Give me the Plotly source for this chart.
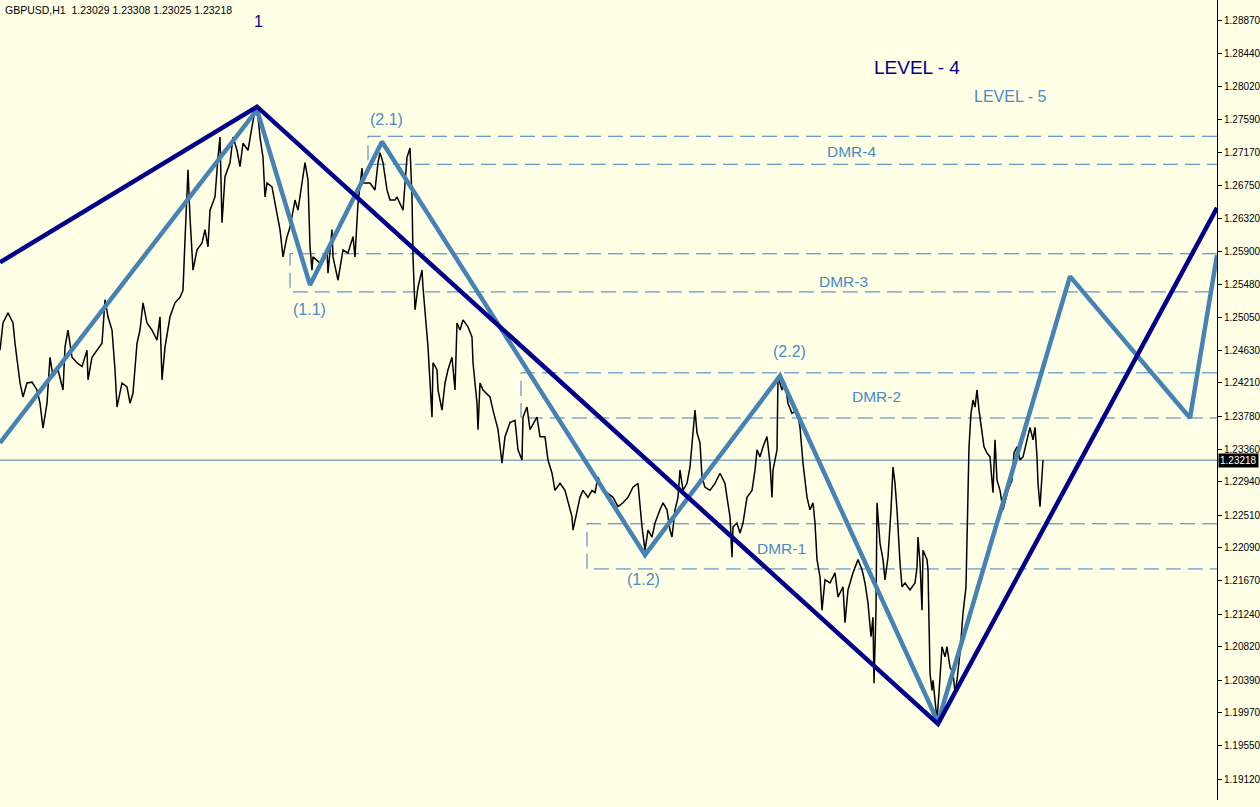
import plotly.graph_objects as go

# ---------------- data ----------------
title_text = "GBPUSD,H1\u00a0\u00a01.23029 1.23308 1.23025 1.23218"
last_price = 1.23218

price_x = [0,3,8,13,15,18,20,23,27,32,37,40,43,47,50,53,58,63,65,68,72,77,82,87,88,92,97,102,105,108,
           112,115,117,122,127,130,133,137,140,143,147,152,157,160,162,165,170,175,180,183,185,188,190,193,197,
           202,205,208,210,215,218,220,222,225,230,233,237,240,243,248,252,255,258,260,263,265,267,272,275,280,
           283,287,290,295,298,305,308,310,312,313,320,327,328,332,333,338,343,348,353,355,358,362,363,370,375,
           378,380,383,387,390,395,397,403,405,407,410,412,413,415,418,422,423,425,428,432,433,437,438,442,445,
           448,452,455,457,460,463,468,472,473,477,478,480,483,490,493,498,502,505,510,515,518,522,523,527,530,
           537,540,545,548,552,555,560,565,568,572,573,577,580,583,588,592,595,598,603,607,613,618,623,628,633,
           638,640,642,645,648,652,655,660,663,667,670,672,675,678,680,683,687,690,693,695,697,700,702,705,710,
           715,720,725,727,730,732,733,737,740,743,747,752,755,757,760,763,767,770,772,773,777,778,782,785,788,
           792,797,800,803,807,810,813,815,817,820,822,825,830,835,838,843,845,848,853,858,862,865,868,871,873,
           874,876,877,880,883,885,888,891,893,895,897,900,902,905,910,915,917,918,920,922,923,927,928,930,932,
           933,935,937,939,942,945,947,950,953,955,957,960,963,966,967,969,971,973,975,977,979,982,984,987,990,
           993,995,997,1000,1003,1005,1008,1012,1014,1017,1020,1023,1027,1030,1033,1035,1037,1038,1040,1042,1043]
price_y = [1.2463,1.2498,1.2511,1.2498,1.2472,1.2442,1.2421,1.2403,1.2421,1.2422,1.2412,1.2395,1.2363,1.2395,
           1.2454,1.2429,1.2438,1.2412,1.2467,1.2489,1.2454,1.2447,1.2442,1.2463,1.2425,1.2454,1.2463,1.2472,
           1.2528,1.2506,1.2489,1.2438,1.2390,1.2421,1.2416,1.2395,1.2408,1.2472,1.2489,1.2524,1.2498,1.2489,
           1.2476,1.2506,1.2425,1.2467,1.2506,1.2524,1.2531,1.2540,1.2605,1.2695,1.2634,1.2566,1.2592,1.2601,
           1.2618,1.2596,1.2643,1.2660,1.2711,1.2737,1.2627,1.2686,1.2704,1.2737,1.2720,1.2699,1.2729,1.2720,
           1.2750,1.2772,1.2763,1.2737,1.2711,1.2660,1.2678,1.2673,1.2652,1.2618,1.2583,1.2609,1.2621,1.2656,
           1.2643,1.2704,1.2682,1.2596,1.2566,1.2583,1.2575,1.2592,1.2562,1.2618,1.2583,1.2553,1.2592,1.2588,
           1.2609,1.2583,1.2652,1.2697,1.2678,1.2678,1.2669,1.2704,1.2717,1.2704,1.2669,1.2656,1.2656,1.2660,
           1.2643,1.2682,1.2711,1.2723,1.2660,1.2583,1.2515,1.2544,1.2566,1.2544,1.2511,1.2467,1.2377,1.2447,
           1.2438,1.2412,1.2386,1.2421,1.2438,1.2454,1.2412,1.2498,1.2489,1.2502,1.2493,1.2480,1.2447,1.2395,
           1.2361,1.2421,1.2412,1.2403,1.2386,1.2361,1.2318,1.2352,1.2370,1.2373,1.2335,1.2322,1.2377,1.2390,
           1.2361,1.2377,1.2352,1.2352,1.2322,1.2305,1.2283,1.2292,1.2283,1.2267,1.2249,1.2232,1.2254,1.2274,
           1.2283,1.2274,1.2283,1.2280,1.2300,1.2283,1.2280,1.2274,1.2262,1.2267,1.2274,1.2287,1.2292,1.2258,
           1.2236,1.2206,1.2232,1.2223,1.2241,1.2258,1.2267,1.2258,1.2232,1.2223,1.2258,1.2274,1.2309,1.2283,
           1.2292,1.2313,1.2352,1.2386,1.2357,1.2344,1.2300,1.2287,1.2283,1.2292,1.2305,1.2292,1.2274,1.2249,
           1.2197,1.2236,1.2241,1.2228,1.2241,1.2274,1.2283,1.2309,1.2335,1.2326,1.2339,1.2352,1.2318,1.2274,
           1.2309,1.2335,1.2429,1.2412,1.2421,1.2395,1.2382,1.2386,1.2364,1.2318,1.2274,1.2258,1.2267,1.2241,
           1.2194,1.2172,1.2129,1.2168,1.2164,1.2177,1.2146,1.2159,1.2113,1.2155,1.2177,1.2194,1.2181,1.2164,
           1.2138,1.2095,1.2120,1.2035,1.2129,1.2267,1.2215,1.2194,1.2168,1.2197,1.2258,1.2313,1.2292,1.2258,
           1.2190,1.2159,1.2164,1.2155,1.2164,1.2184,1.2223,1.2190,1.2129,1.2206,1.2194,1.2181,1.2048,1.2026,
           1.2039,1.2014,1.1988,1.2023,1.2082,1.2069,1.2082,1.2056,1.2048,1.2023,1.2039,1.2074,1.2125,1.2159,
           1.2236,1.2339,1.2382,1.2399,1.2390,1.2412,1.2386,1.2361,1.2339,1.2331,1.2326,1.2280,1.2348,1.2296,
           1.2283,1.2258,1.2267,1.2283,1.2296,1.2331,1.2339,1.2322,1.2326,1.2348,1.2364,1.2348,1.2364,1.2326,
           1.2292,1.2262,1.2296,1.2322]

# wave level 4 (navy) and wave level 5 (steel blue) vertices
level4_x = [0, 257, 938, 1217]
level4_y = [1.2576, 1.2776, 1.1983, 1.2646]
level5_x = [0, 257, 310, 382, 645, 780, 938, 1070, 1190, 1217]
level5_y = [1.2344, 1.2772, 1.2547, 1.2731, 1.2200, 1.2430, 1.1985, 1.2558, 1.2376, 1.2585]

# DMR zones
dmr_names = ["DMR-1", "DMR-2", "DMR-3", "DMR-4"]
dmr_left = [587, 521, 290, 368]
dmr_top = [1.2240, 1.2434, 1.2587, 1.2738]
dmr_bottom = [1.2182, 1.2376, 1.2538, 1.2702]
dmr_label_x = [781, 876, 843, 851]
dmr_label_y = [1.2208, 1.2404, 1.2552, 1.2718]

# wave point labels
wave_labels = ["(1.1)", "(2.1)", "(1.2)", "(2.2)"]
wave_label_x = [309, 386, 643, 789]
wave_label_y = [1.2515, 1.2760, 1.2168, 1.2461]

# price axis ticks
tick_vals = [1.28870, 1.28440, 1.28020, 1.27590, 1.27170, 1.26750, 1.26320, 1.25900, 1.25480,
             1.25050, 1.24630, 1.24210, 1.23780, 1.23360, 1.22940, 1.22510, 1.22090, 1.21670,
             1.21240, 1.20820, 1.20390, 1.19970, 1.19550, 1.19120]
tick_text = ["%.5f" % v for v in tick_vals]

x_min, x_max = 0, 1217
y_min, y_max = 1.18851, 1.29131

# ---------------- styles ----------------
BG = "#FFFFE6"
NAVY = "#00008B"
STEEL = "#4682B4"
DASH = "#3B7EC0"
LABEL = "#4A8AC6"
FONT = "Liberation Sans, Arial, sans-serif"

fig = go.Figure()

# current price line
fig.add_trace(go.Scatter(x=[x_min, x_max], y=[last_price, last_price], mode="lines",
                         line=dict(color=STEEL, width=1), hoverinfo="skip", showlegend=False))

# DMR dashed boxes
for i in range(len(dmr_names)):
    fig.add_trace(go.Scatter(
        x=[x_max, dmr_left[i], dmr_left[i], x_max],
        y=[dmr_top[i], dmr_top[i], dmr_bottom[i], dmr_bottom[i]],
        mode="lines", line=dict(color=DASH, width=1, dash="15px,7px"),
        hoverinfo="skip", showlegend=False))

# price
fig.add_trace(go.Scatter(x=price_x, y=price_y, mode="lines",
                         line=dict(color="black", width=1.5), showlegend=False))

# wave levels
fig.add_trace(go.Scatter(x=level5_x, y=level5_y, mode="lines",
                         line=dict(color=STEEL, width=4.5), showlegend=False))
fig.add_trace(go.Scatter(x=level4_x, y=level4_y, mode="lines",
                         line=dict(color=NAVY, width=4.5), showlegend=False))

annotations = []
for i in range(len(dmr_names)):
    annotations.append(dict(x=dmr_label_x[i], y=dmr_label_y[i], xref="x", yref="y",
                            text=dmr_names[i], showarrow=False,
                            font=dict(family=FONT, size=15.5, color=LABEL)))
for i in range(len(wave_labels)):
    annotations.append(dict(x=wave_label_x[i], y=wave_label_y[i], xref="x", yref="y",
                            text=wave_labels[i], showarrow=False,
                            font=dict(family=FONT, size=16, color=LABEL)))
annotations += [
    dict(x=258, y=1.28861, xref="x", yref="y", text="1", showarrow=False,
         font=dict(family=FONT, size=16, color=NAVY)),
    dict(x=917, y=1.2827, xref="x", yref="y", text="LEVEL - 4", showarrow=False,
         font=dict(family=FONT, size=19, color=NAVY)),
    dict(x=1010, y=1.27897, xref="x", yref="y", text="LEVEL - 5", showarrow=False,
         font=dict(family=FONT, size=16, color=LABEL)),
    dict(x=0, y=1, xref="paper", yref="paper", xanchor="left", yanchor="top",
         xshift=3, yshift=-2, text=title_text, showarrow=False,
         font=dict(family=FONT, size=10.5, color="black")),
    dict(x=1, y=last_price, xref="paper", yref="y", xanchor="left", yanchor="middle",
         xshift=1, text="%.5f" % last_price, showarrow=False, bgcolor="black",
         borderpad=1, font=dict(family=FONT, size=10, color="white")),
]

fig.update_layout(
    width=1260, height=807,
    margin=dict(l=0, r=43, t=0, b=7),
    paper_bgcolor=BG, plot_bgcolor=BG,
    showlegend=False,
    annotations=annotations,
    xaxis=dict(range=[x_min, x_max], visible=False, fixedrange=True),
    yaxis=dict(range=[y_min, y_max], side="right", tickvals=tick_vals, ticktext=tick_text,
               ticks="outside", ticklen=4, tickcolor="black", showline=True, linecolor="black",
               linewidth=1, showgrid=False, zeroline=False,
               tickfont=dict(family=FONT, size=10, color="black")),
)

fig.write_html("out.html", config={"displayModeBar": False},
               post_script="document.body.style.margin='0';document.body.style.padding='0';"
                           "document.body.style.overflow='hidden';"
                           "document.body.style.background='" + BG + "';")
